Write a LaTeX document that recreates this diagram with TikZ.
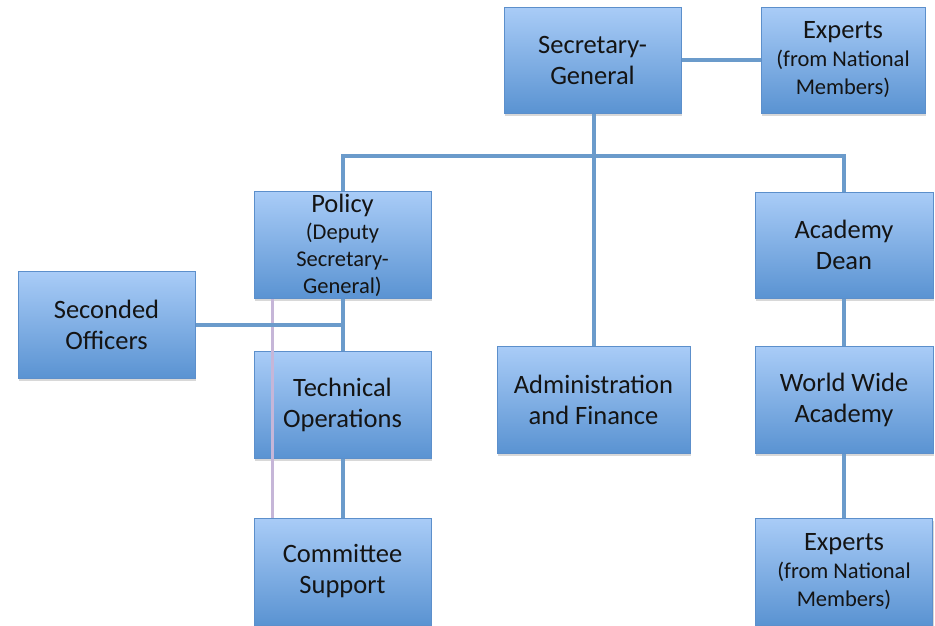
\documentclass[tikz,border=0pt]{standalone}
\usepackage{fontspec}
\setmainfont{Carlito}
\usetikzlibrary{shadows}
\definecolor{boxtop}{HTML}{A9CCF7}
\definecolor{boxbot}{HTML}{5A93D2}
\definecolor{boxline}{HTML}{5C8FCB}
\definecolor{linkblue}{HTML}{6B9BCB}
\definecolor{lilac}{HTML}{C6B6D8}
\definecolor{ink}{HTML}{141414}
\newcommand{\smallnote}{\fontsize{22.5}{27}\selectfont}

\begin{document}
\begin{tikzpicture}[x=1pt, y=-1pt,
  unit/.style={draw=boxline, line width=1pt, top color=boxtop, bottom color=boxbot,
    text=ink, align=center, inner sep=0pt, minimum height=107pt,
    font=\fontsize{26.5}{31}\selectfont,
    drop shadow={opacity=0.3, shadow xshift=1pt, shadow yshift=-2.5pt}},
  link/.style={draw=linkblue, line width=4pt},
  liaison/.style={draw=lilac, line width=3pt}]
\clip (0,0) rectangle (935,625);
\fill[white] (0,0) rectangle (935,625);
\node[unit, minimum width=177pt, minimum height=106pt] (sg) at (592.5,60) {Secretary-\\General};
\node[unit, minimum width=164pt, minimum height=106pt] (exptop) at (843,60) {Experts\\[-3pt]\smallnote (from National\\[-3pt]\smallnote Members)};
\node[unit, minimum width=177pt] (policy) at (342.5,245) {Policy\\[-4pt]\smallnote (Deputy\\[-4pt]\smallnote Secretary-\\[-4pt]\smallnote General)};
\node[unit, minimum width=177pt] (seconded) at (106.5,324.5) {Seconded\\Officers};
\node[unit, minimum width=177pt] (techops) at (342.5,404.5) {Technical\\Operations};
\node[unit, minimum width=177pt] (committee) at (342.5,571.5) {Committee\\Support};
\node[unit, minimum width=193pt] (admin) at (593.5,399.5) {Administration\\and Finance};
\node[unit, minimum width=178pt, minimum height=106pt] (dean) at (844,245) {Academy\\Dean};
\node[unit, minimum width=178pt] (wwa) at (844,399.5) {World Wide\\Academy};
\node[unit, minimum width=177pt] (expbot) at (844,571.5) {Experts\\[-3pt]\smallnote (from National\\[-3pt]\smallnote Members)};
\coordinate (bus) at (593.5,156);
\draw[link] (admin.north) -- (admin.north |- sg.south);
\draw[link] (policy.north) |- (bus) -| (dean.north);
\draw[link] (sg.east) -- (exptop.west);
\draw[link] (policy.south) -- (techops.north);
\draw[link] (techops.south) -- (committee.north);
\draw[link] (dean.south) -- (wwa.north);
\draw[link] (wwa.south) -- (expbot.north);
\draw[liaison] ([xshift=-70pt]policy.south) -- ([xshift=-70pt]committee.north);
\draw[link] (seconded.east) -- (seconded.east -| policy.south);
\end{tikzpicture}
\end{document}
